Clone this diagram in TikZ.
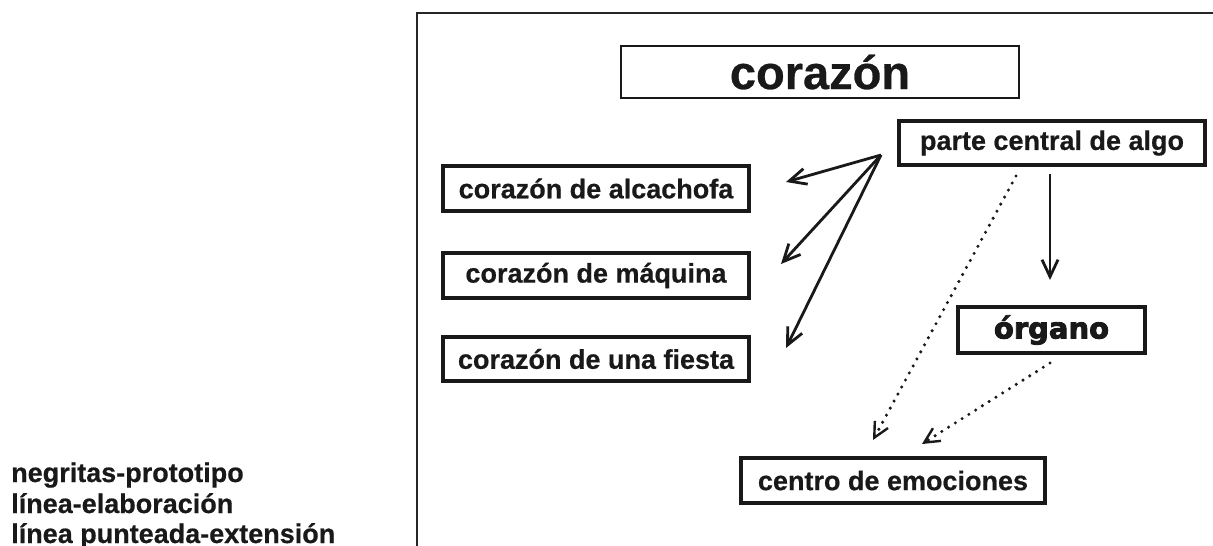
\documentclass[tikz,border=0pt]{standalone}
\usepackage{fontspec}
\setmainfont{Liberation Sans}[BoldFeatures={FakeBold=0.6}]
\newfontfamily\heavyfont[BoldFeatures={FakeBold=3}]{DejaVu Sans}
\usetikzlibrary{arrows.meta}
\tikzset{
  cbox/.style={draw=black!90, line width=3.2pt, inner sep=0pt, font=\fontsize{27}{30}\selectfont\bfseries, text=black!90},
  elab/.style={line width=2.8pt, draw=black!90, -{Straight Barb[length=17pt,width=16pt,line width=2.8pt]}},
  ext/.style={line width=3.4pt, draw=black!90, line cap=round, dash pattern=on 0pt off 8pt, -{Straight Barb[length=15pt,width=15pt,line width=2.4pt]}},
  legend/.style={anchor=base west, inner sep=0pt, font=\fontsize{27}{30}\selectfont\bfseries, text=black!90}
}
\begin{document}
\begin{tikzpicture}[x=1pt,y=-1pt]
\useasboundingbox (0,0) rectangle (1213,546);
% frame
\draw[line width=2pt, black!85] (417,560) -- (417,13) -- (1230,13);
% nodes
\node[cbox, line width=1.8pt, minimum width=398pt, minimum height=52pt, font=\fontsize{47}{50}\selectfont\bfseries] (title) at (820,72) {corazón};
\node[cbox, minimum width=306pt, minimum height=44pt] (parte) at (1052,143) {parte central de algo};
\node[cbox, minimum width=306pt, minimum height=45pt] (alca) at (596,188.5) {corazón de alcachofa};
\node[cbox, minimum width=306pt, minimum height=45pt] (maq) at (596,275.5) {corazón de máquina};
\node[cbox, minimum width=306pt, minimum height=44pt] (fiesta) at (596,359) {corazón de una fiesta};
\node[cbox, minimum width=187pt, minimum height=46pt, font=\fontsize{29}{30}\selectfont\heavyfont\bfseries] (organo) at (1051.5,330) {órgano};
\node[cbox, minimum width=304pt, minimum height=45pt] (centro) at (893,480.5) {centro de emociones};
% connector end points
\coordinate (src) at (881,155);
\coordinate (tA) at (786,182);
\coordinate (tM) at (781,264);
\coordinate (tF) at (786,348);
\coordinate (vS) at (1050,174);
\coordinate (vE) at (1050,280);
\coordinate (d1s) at (1016,176);
\coordinate (d1e) at (873,440);
\coordinate (d2s) at (1050,363);
\coordinate (d2e) at (922,444);
% connectors
\draw[elab] (src) -- (tA);
\draw[elab] (src) -- (tM);
\draw[elab] (src) -- (tF);
\draw[elab] (vS) -- (vE);
\draw[ext] (d1s) -- (d1e);
\draw[ext] (d2s) -- (d2e);
% legend
\node[legend] (l1) at (11,482) {negritas-prototipo};
\node[legend] (l2) at (11,513) {línea-elaboración};
\node[legend] (l3) at (11,543) {línea punteada-extensión};
\end{tikzpicture}
\end{document}
